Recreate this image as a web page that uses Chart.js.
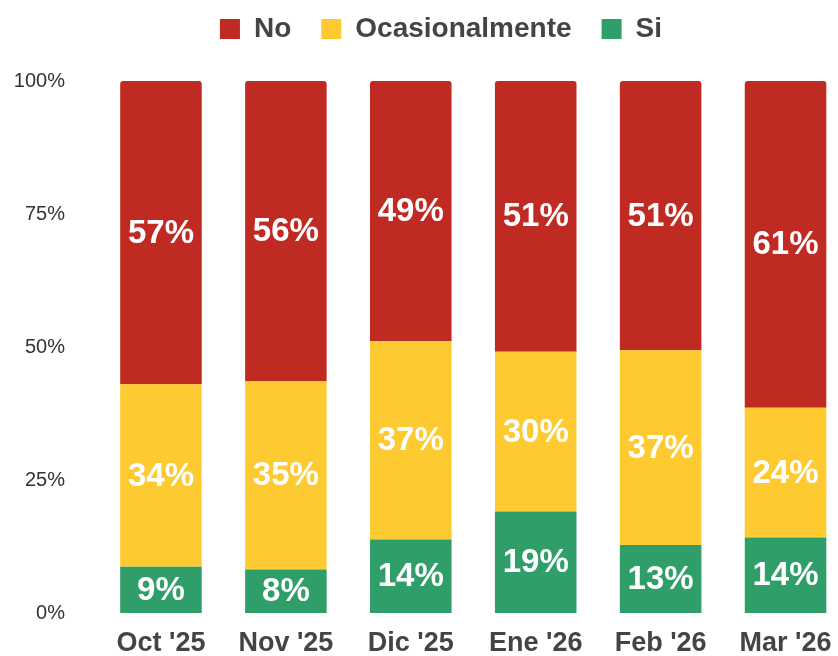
<!DOCTYPE html>
<html>
<head>
<meta charset="utf-8">
<script src="https://cdn.jsdelivr.net/npm/chart.js@4/dist/chart.umd.min.js"></script>
<style>
  html, body { margin: 0; padding: 0; background: #fff; overflow: hidden; width: 838px; height: 656px; }
  canvas { display: block; }
</style>
</head>
<body>
<canvas id="chart" width="882" height="656"></canvas>
<script>
// Months on the x axis
var months = ["Oct '25", "Nov '25", "Dic '25", "Ene '26", "Feb '26", "Mar '26"];

// Share of answers per month (percent)
var siValues   = [8.7, 8.2, 13.8, 19.1, 12.8, 14.2];
var ocasValues = [34.3, 35.4, 37.3, 30.0, 36.6, 24.4];
var noValues   = [57.0, 56.4, 48.9, 50.9, 50.6, 61.4];

// Printed labels inside each segment
var siLabels   = [9, 8, 14, 19, 13, 14];
var ocasLabels = [34, 35, 37, 30, 37, 24];
var noLabels   = [57, 56, 49, 51, 51, 61];

var yTicks = [0, 25, 50, 75, 100];

var fontFamily = '"Liberation Sans", Arial, Helvetica, sans-serif';

// draws the white percentage in the middle of every segment
var segmentLabels = {
    id: 'segmentLabels',
    afterDatasetsDraw: function (chart) {
        var ctx = chart.ctx;
        ctx.save();
        ctx.fillStyle = '#ffffff';
        ctx.font = 'bold 33px ' + fontFamily;
        ctx.textAlign = 'center';
        ctx.textBaseline = 'middle';
        chart.data.datasets.forEach(function (ds, i) {
            var meta = chart.getDatasetMeta(i);
            meta.data.forEach(function (bar, j) {
                var p = bar.getProps(['x', 'y', 'base'], true);
                ctx.fillText(ds.printed[j] + '%', p.x, (p.y + p.base) / 2 + 1);
            });
        });
        ctx.restore();
    }
};

// legend: fixed height above the bars, nudged right a little
var legendSpace = {
    id: 'legendSpace',
    beforeInit: function (chart) {
        var fit = chart.legend.fit;
        chart.legend.fit = function () {
            fit.bind(chart.legend)();
            this.height = 96;
        };
    },
    afterLayout: function (chart) {
        chart.legend.left += 9.5;
        chart.legend.right += 9.5;
    }
};

var ctx = document.getElementById('chart');

var chart = new Chart(ctx, {
    type: 'bar',
    data: {
        labels: months,
        datasets: [{
            label: 'Si',
            data: siValues,
            printed: siLabels,
            backgroundColor: '#2f9e69'
        }, {
            label: 'Ocasionalmente',
            data: ocasValues,
            printed: ocasLabels,
            backgroundColor: '#fdcb31'
        }, {
            label: 'No',
            data: noValues,
            printed: noLabels,
            backgroundColor: '#bf2a22',
            borderRadius: { topLeft: 3, topRight: 3, bottomLeft: 0, bottomRight: 0 },
            borderSkipped: false
        }]
    },
    options: {
        responsive: false,
        animation: false,
        layout: { padding: { left: 15, right: 34, top: -15, bottom: 0 } },
        datasets: {
            bar: { categoryPercentage: 0.8, barPercentage: 0.816 }
        },
        plugins: {
            tooltip: { enabled: false },
            legend: {
                reverse: true,
                labels: {
                    boxWidth: 20,
                    boxHeight: 20,
                    padding: 30,
                    color: '#444444',
                    font: { family: fontFamily, size: 28, weight: 'bold' }
                }
            }
        },
        scales: {
            x: {
                stacked: true,
                grid: { display: false, drawTicks: false },
                border: { display: false },
                afterFit: function (axis) {
                    axis.paddingLeft = 0;
                    axis.paddingRight = 0;
                    axis.height = 43;
                },
                ticks: {
                    padding: 17,
                    maxRotation: 0,
                    minRotation: 0,
                    color: '#444444',
                    font: { family: fontFamily, size: 27, weight: 'bold', lineHeight: 1.0 }
                }
            },
            y: {
                stacked: true,
                min: 0,
                max: 100,
                afterBuildTicks: function (axis) {
                    axis.ticks = yTicks.map(function (v) { return { value: v }; });
                },
                afterFit: function (axis) {
                    axis.width = 83.5;
                    axis.paddingTop = 0;
                    axis.paddingBottom = 0;
                },
                grid: { display: false, drawTicks: false },
                border: { display: false },
                ticks: {
                    padding: 33.5,
                    color: '#333333',
                    font: { family: fontFamily, size: 20 },
                    callback: function (v) { return v + '%'; }
                }
            }
        }
    },
    plugins: [segmentLabels, legendSpace]
});
</script>
</body>
</html>
